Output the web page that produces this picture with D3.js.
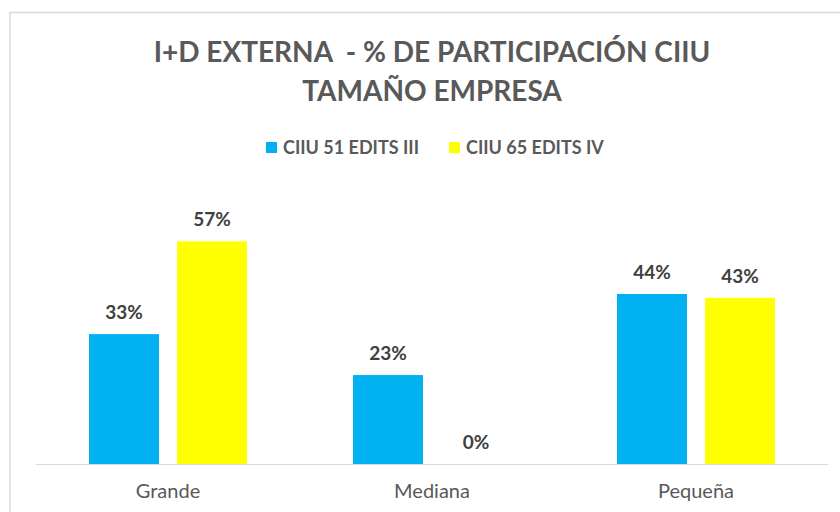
<!DOCTYPE html>
<html>
<head>
<meta charset="utf-8">
<script src="https://cdn.jsdelivr.net/npm/d3@7"></script>
<style>
  body { margin: 0; background: #fff; }
  text { font-family: Lato, "Open Sans", sans-serif; white-space: pre; }
</style>
</head>
<body>
<script>
var categories = ["Grande", "Mediana", "Pequeña"];
var seriesNames = ["CIIU 51 EDITS III", "CIIU 65 EDITS IV"];
var ciiu51 = [33.3, 22.8, 43.6];
var ciiu65 = [57.1, 0, 42.6];
var titleLines = ["I+D EXTERNA  - % DE PARTICIPACIÓN CIIU", "TAMAÑO EMPRESA"];

var width = 840, height = 512;
var colors = ["#00B0F0", "#FFFF00"];

var rows = categories.map(function(c, i) {
    return { cat: c, values: [ciiu51[i], ciiu65[i]] };
});

var svg = d3.select("body")
    .append("svg")
    .attr("width", width)
    .attr("height", height);

// chart area border (runs off the right and bottom)
svg.append("rect")
    .attr("x", 10)
    .attr("y", 12.5)
    .attr("width", 860)
    .attr("height", 540)
    .attr("fill", "#fff")
    .attr("stroke", "#d9d9d9")
    .attr("stroke-width", 1.5);

var x = d3.scaleBand()
    .domain(categories)
    .range([36, 828]);

var xs = d3.scaleBand()
    .domain([0, 1])
    .range([53, x.bandwidth() - 53])
    .paddingInner(0.205);

var y = d3.scaleLinear()
    .domain([0, 60])
    .range([464, 230]);

// title
svg.append("g").selectAll("text")
    .data(titleLines)
    .enter()
    .append("text")
    .attr("x", 432)
    .attr("y", function(d, i) { return 62 + i * 39; })
    .attr("text-anchor", "middle")
    .attr("font-size", 28)
    .attr("font-weight", "bold")
    .attr("fill", "#595959")
    .text(function(d) { return d; });

// legend
var legend = svg.append("g").selectAll("g")
    .data(seriesNames)
    .enter()
    .append("g")
    .attr("transform", function(d, i) { return "translate(" + (266 + i * 183) + ",142)"; });

legend.append("rect")
    .attr("width", 11)
    .attr("height", 11)
    .attr("fill", function(d, i) { return colors[i]; });

legend.append("text")
    .attr("x", 17)
    .attr("y", 11.5)
    .attr("font-size", 18)
    .attr("font-weight", "bold")
    .attr("fill", "#595959")
    .text(function(d) { return d; });

// axis line
svg.append("line")
    .attr("x1", 36)
    .attr("x2", 828)
    .attr("y1", y(0) + 0.5)
    .attr("y2", y(0) + 0.5)
    .attr("stroke", "#d9d9d9")
    .attr("stroke-width", 1);

var group = svg.append("g").selectAll("g")
    .data(rows)
    .enter()
    .append("g")
    .attr("transform", function(d) { return "translate(" + x(d.cat) + ",0)"; });

group.selectAll("rect")
    .data(function(d) { return d.values; })
    .enter()
    .append("rect")
    .attr("x", function(d, i) { return xs(i); })
    .attr("y", function(d) { return y(d); })
    .attr("width", xs.bandwidth())
    .attr("height", function(d) { return y(0) - y(d); })
    .attr("fill", function(d, i) { return colors[i]; });

group.selectAll("text")
    .data(function(d) { return d.values; })
    .enter()
    .append("text")
    .attr("x", function(d, i) { return xs(i) + xs.bandwidth() / 2; })
    .attr("y", function(d) { return y(d) - 15; })
    .attr("text-anchor", "middle")
    .attr("font-size", 19)
    .attr("font-weight", "bold")
    .attr("fill", "#404040")
    .text(function(d) { return Math.round(d) + "%"; });

// category labels
svg.append("g")
    .attr("transform", "translate(0," + y(0) + ")")
    .call(d3.axisBottom(x).tickSize(0).tickPadding(20))
    .call(function(g) { g.select(".domain").remove(); })
    .selectAll("text")
    .attr("font-size", 20)
    .attr("font-family", "Lato, 'Open Sans', sans-serif")
    .attr("fill", "#595959");
</script>
</body>
</html>
